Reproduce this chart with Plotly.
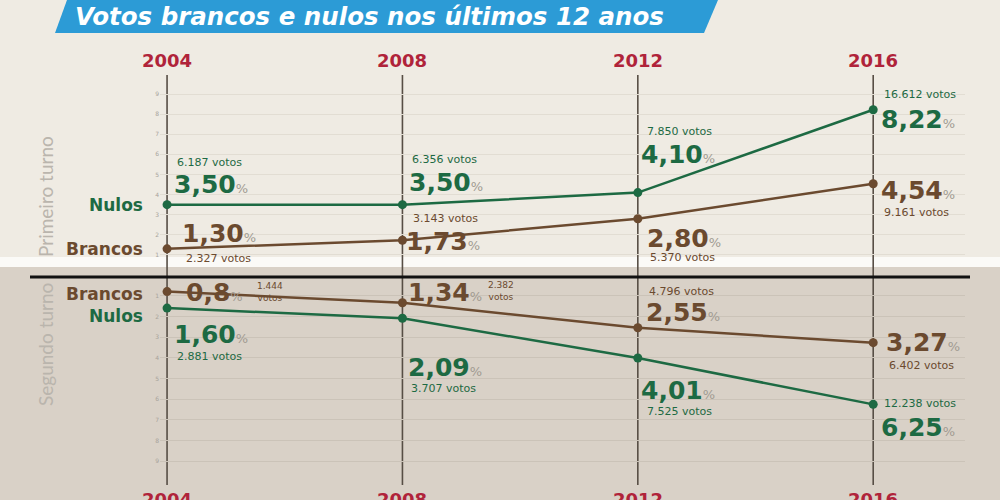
import plotly.graph_objects as go

years = [2004, 2008, 2012, 2016]

nulos_1 = [3.50, 3.50, 4.10, 8.22]
brancos_1 = [1.30, 1.73, 2.80, 4.54]
nulos_2 = [1.60, 2.09, 4.01, 6.25]
brancos_2 = [0.80, 1.34, 2.55, 3.27]

nulos_1_pct = ["3,50", "3,50", "4,10", "8,22"]
brancos_1_pct = ["1,30", "1,73", "2,80", "4,54"]
nulos_2_pct = ["1,60", "2,09", "4,01", "6,25"]
brancos_2_pct = ["0,8", "1,34", "2,55", "3,27"]

nulos_1_votos = ["6.187 votos", "6.356 votos", "7.850 votos", "16.612 votos"]
brancos_1_votos = ["2.327 votos", "3.143 votos", "5.370 votos", "9.161 votos"]
nulos_2_votos = ["2.881 votos", "3.707 votos", "7.525 votos", "12.238 votos"]
brancos_2_votos = ["1.444<br>votos", "2.382<br>votos", "4.796 votos", "6.402 votos"]

tick_vals = [1, 2, 3, 4, 5, 6, 7, 8, 9]

GREEN = "#1d6a43"
BROWN = "#6b4a2f"
RED = "#b0233a"
FONT = "DejaVu Sans"

fig = go.Figure()

fig.add_trace(go.Scatter(x=years, y=nulos_1, mode="lines+markers", yaxis="y",
                         line=dict(color=GREEN, width=2.5), marker=dict(size=9, color=GREEN)))
fig.add_trace(go.Scatter(x=years, y=brancos_1, mode="lines+markers", yaxis="y",
                         line=dict(color=BROWN, width=2.5), marker=dict(size=9, color=BROWN)))
fig.add_trace(go.Scatter(x=years, y=nulos_2, mode="lines+markers", yaxis="y2",
                         line=dict(color=GREEN, width=2.5), marker=dict(size=9, color=GREEN)))
fig.add_trace(go.Scatter(x=years, y=brancos_2, mode="lines+markers", yaxis="y2",
                         line=dict(color=BROWN, width=2.5), marker=dict(size=9, color=BROWN)))

annotations = []

def pct_text(p):
    return "<b>" + p + "</b><span style='font-size:13px;color:#a19b92'>%</span>"

def add_labels(vals, pcts, votos, yref, color, offsets, vsize=11):
    # offsets: (dx, dy) for the percentage, (dx, dy) for the votes; dy in px, down is positive
    for yr, v, p, t, off in zip(years, vals, pcts, votos, offsets):
        (pdx, pdy), (vdx, vdy) = off
        annotations.append(dict(x=yr, y=v, xref="x", yref=yref, text=pct_text(p),
                                showarrow=False, xanchor="left", yanchor="middle",
                                xshift=pdx, yshift=-pdy,
                                font=dict(family=FONT, size=25, color=color)))
        annotations.append(dict(x=yr, y=v, xref="x", yref=yref, text=t,
                                showarrow=False, xanchor="left", yanchor="middle",
                                xshift=vdx, yshift=-vdy,
                                font=dict(family=FONT, size=vsize if "<br>" not in t else 9,
                                          color=color)))

add_labels(nulos_1, nulos_1_pct, nulos_1_votos, "y", GREEN,
           [((5, -20), (8, -42)), ((5, -22), (8, -45)), ((1, -38), (7, -61)), ((6, 10), (9, -15))])
add_labels(brancos_1, brancos_1_pct, brancos_1_votos, "y", BROWN,
           [((13, -15), (17, 10)), ((2, 1), (9, -22)), ((7, 20), (10, 39)), ((6, 7), (9, 29))])
add_labels(nulos_2, nulos_2_pct, nulos_2_votos, "y2", GREEN,
           [((5, 26), (8, 48)), ((4, 49), (7, 70)), ((1, 32), (7, 53)), ((6, 23), (9, -1))])
add_labels(brancos_2, brancos_2_pct, brancos_2_votos, "y2", BROWN,
           [((17, 1), (88, 0)), ((4, -10), (84, -12)), ((6, -15), (9, -36)), ((11, 0), (14, 23))])

# series names on the left
for txt, v, yref, color, ysh in [("Nulos", nulos_1[0], "y", GREEN, 0),
                                 ("Brancos", brancos_1[0], "y", BROWN, 0),
                                 ("Brancos", brancos_2[0], "y2", BROWN, -2),
                                 ("Nulos", nulos_2[0], "y2", GREEN, -8)]:
    annotations.append(dict(x=years[0], y=v, xref="x", yref=yref, text="<b>" + txt + "</b>",
                            showarrow=False, xanchor="right", yanchor="middle",
                            xshift=-22, yshift=ysh,
                            font=dict(family=FONT, size=17, color=color)))

# year labels, top and bottom (the bottom row runs off the edge, as in the original)
for yr in years:
    annotations.append(dict(x=yr, y=0.88, xref="x", yref="paper", text="<b>%d</b>" % yr,
                            showarrow=False, xanchor="center", yanchor="middle",
                            font=dict(family=FONT, size=18, color=RED)))
    annotations.append(dict(x=yr, y=0.026, xref="x", yref="paper", text="<b>%d</b>" % yr,
                            showarrow=False, xanchor="center", yanchor="top",
                            font=dict(family=FONT, size=18, color=RED)))

# round labels
annotations.append(dict(x=0.045, y=0.606, xref="paper", yref="paper", text="Primeiro turno",
                        textangle=-90, showarrow=False, xanchor="center", yanchor="middle",
                        font=dict(family="Lato", size=19, color="#bab5ad")))
annotations.append(dict(x=0.045, y=0.31, xref="paper", yref="paper", text="Segundo turno",
                        textangle=-90, showarrow=False, xanchor="center", yanchor="middle",
                        font=dict(family="Lato", size=19, color="#bab5ad")))

# title
annotations.append(dict(x=0.073, y=0.967, xref="paper", yref="paper",
                        text="<b><i>Votos brancos e nulos nos últimos 12 anos</i></b>",
                        showarrow=False, xanchor="left", yanchor="middle",
                        font=dict(family=FONT, size=24.5, color="white")))

shapes = [
    # bottom panel background and the white strip between panels
    dict(type="rect", xref="paper", yref="paper", x0=0, x1=1, y0=0, y1=0.466,
         fillcolor="#d9d1c7", line=dict(width=0), layer="below"),
    dict(type="rect", xref="paper", yref="paper", x0=0, x1=1, y0=0.466, y1=0.486,
         fillcolor="#fbfaf7", line=dict(width=0), layer="below"),
    # title banner
    dict(type="path", xref="paper", yref="paper",
         path="M 0.055,0.934 L 0.067,1 L 0.718,1 L 0.704,0.934 Z",
         fillcolor="#2c9bd6", line=dict(width=0), layer="below"),
    # divider between rounds
    dict(type="line", xref="paper", yref="paper", x0=0.03, x1=0.97, y0=0.446, y1=0.446,
         line=dict(color="#111111", width=3), layer="above"),
]
for yr in years:
    shapes.append(dict(type="line", xref="x", yref="paper", x0=yr, x1=yr, y0=0.03, y1=0.85,
                       line=dict(color="#574e45", width=1.6), layer="between"))

fig.update_layout(
    width=1000, height=500,
    margin=dict(l=0, r=0, t=0, b=0),
    paper_bgcolor="#efebe3",
    plot_bgcolor="rgba(0,0,0,0)",
    showlegend=False,
    xaxis=dict(domain=[0.16, 0.965], range=[2003.88, 2017.56], visible=False, anchor="y2"),
    yaxis=dict(domain=[0.45, 1.0], range=[0, 13.68], anchor="x",
               tickvals=tick_vals, gridcolor="#e2ddd3", zeroline=False, showline=False,
               tickfont=dict(family=FONT, size=6, color="#a8a39b")),
    yaxis2=dict(domain=[0.0, 0.45], range=[10.87, 0], anchor="x",
                tickvals=tick_vals, gridcolor="#cbc3b8", zeroline=False, showline=False,
                tickfont=dict(family=FONT, size=6, color="#a8a39b")),
    annotations=annotations,
    shapes=shapes,
)

# drop the page's default body margin so the figure sits flush in the window
fig.write_html("out.html", config={"displayModeBar": False},
               post_script="document.body.style.margin='0';")
